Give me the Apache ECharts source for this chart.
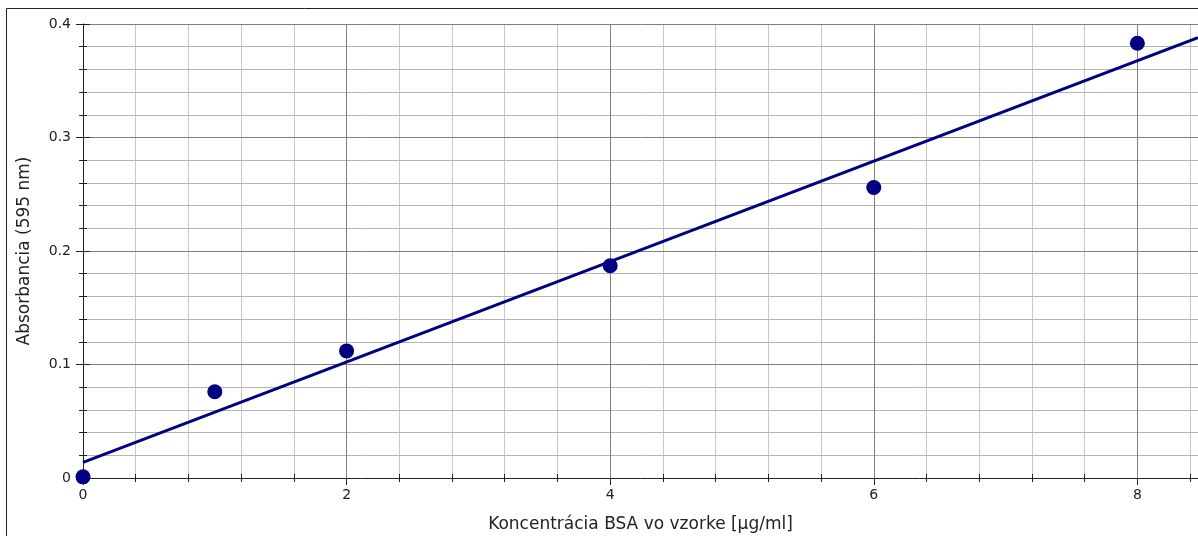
<!DOCTYPE html>
<html>
<head>
<meta charset="utf-8">
<script src="https://cdn.jsdelivr.net/npm/echarts@6/dist/echarts.min.js"></script>
<style>
html,body{margin:0;padding:0;background:#fff;}
#c{width:1198px;height:536px;}
</style>
</head>
<body>
<div id="c"></div>
<script>
const concentrations = [0, 1, 2, 4, 6, 8];
const absorbance = [0.001, 0.076, 0.112, 0.187, 0.256, 0.383];
const trendX = [0, 8.46];
const trendY = [0.0137, 0.388];
const xTicks = [0, 2, 4, 6, 8];
const yTicks = [0, 0.1, 0.2, 0.3, 0.4];
const xTitle = 'Koncentrácia BSA vo vzorke [µg/ml]';
const yTitle = 'Absorbancia (595 nm)';

const FONT = 'DejaVu Sans';
const NAVY = '#000080';
const XMIN = 0, XMAX = 8.46, YMIN = 0, YMAX = 0.4;

const chart = echarts.init(document.getElementById('c'), null, {renderer: 'canvas'});

const hiddenX = (extra) => Object.assign({
  type: 'value', min: XMIN, max: XMAX, position: 'bottom',
  axisLine: {show: false}, axisLabel: {show: false}, splitLine: {show: false},
  axisTick: {show: false}
}, extra);

const option = {
  animation: false,
  backgroundColor: '#fff',
  grid: {left: 83, right: 0, top: 24, bottom: 58, containLabel: false, outerBoundsMode: 'none'},
  graphic: [{
    type: 'rect', silent: true, z: -1,
    shape: {x: 6.5, y: 8.5, width: 1300, height: 700},
    style: {fill: 'none', stroke: '#222', lineWidth: 1}
  }],
  xAxis: [
    hiddenX({
      z: 0, interval: 0.4,
      axisTick: {show: true, inside: false, length: 4, lineStyle: {color: '#222', width: 1}},
      splitLine: {show: true, showMinLine: false, showMaxLine: false, lineStyle: {color: '#c8c8c8', width: 1}}
    }),
    hiddenX({
      z: 0, interval: 0.4,
      axisTick: {show: true, inside: true, length: 4, lineStyle: {color: '#222', width: 1}}
    }),
    hiddenX({
      z: 1, interval: 2,
      axisTick: {show: true, inside: true, length: 7, lineStyle: {color: '#222', width: 1}}
    }),
    {
      type: 'value', min: XMIN, max: XMAX, interval: 2, position: 'bottom', z: 2,
      name: xTitle, nameLocation: 'middle', nameGap: 38,
      nameTextStyle: {fontFamily: FONT, fontSize: 17, color: '#222'},
      axisLine: {show: true, onZero: false, lineStyle: {color: '#222', width: 1}},
      axisTick: {show: true, inside: false, length: 7, lineStyle: {color: '#222', width: 1}},
      axisLabel: {
        show: true, margin: 10, fontFamily: FONT, fontSize: 14, color: '#222',
        showMaxLabel: false,
        formatter: v => (xTicks.indexOf(v) >= 0 ? String(v) : '')
      },
      splitLine: {show: true, showMinLine: false, showMaxLine: false, lineStyle: {color: '#808080', width: 1}}
    }
  ],
  yAxis: [
    {
      type: 'value', min: YMIN, max: YMAX, interval: 0.1, position: 'left', z: 2,
      name: yTitle, nameLocation: 'middle', nameGap: 50,
      nameTextStyle: {fontFamily: FONT, fontSize: 17, color: '#222'},
      axisLine: {show: true, onZero: false, lineStyle: {color: '#222', width: 1}},
      axisTick: {show: true, inside: false, length: 7, lineStyle: {color: '#222', width: 1}},
      minorTick: {show: true, splitNumber: 5, length: 4, lineStyle: {color: '#222', width: 1}},
      minorSplitLine: {show: true, lineStyle: {color: '#b4b4b4', width: 1}},
      axisLabel: {
        show: true, margin: 12, fontFamily: FONT, fontSize: 14, color: '#222',
        formatter: v => {
          const t = yTicks.find(y => Math.abs(y - v) < 1e-9);
          return t === undefined ? '' : String(t);
        }
      },
      splitLine: {show: true, showMinLine: false, lineStyle: {color: '#808080', width: 1}}
    },
    {
      type: 'value', min: YMIN, max: YMAX, interval: 0.1, position: 'left', z: 2,
      axisLine: {show: false},
      axisTick: {show: true, inside: true, length: 7, lineStyle: {color: '#222', width: 1}},
      minorTick: {show: true, splitNumber: 5, length: 4, lineStyle: {color: '#222', width: 1}},
      axisLabel: {show: false, inside: true},
      splitLine: {show: false}
    }
  ],
  series: [
    {
      type: 'line', xAxisIndex: 3, yAxisIndex: 0, z: 3,
      data: trendX.map((x, i) => [x, trendY[i]]),
      showSymbol: false, symbol: 'none',
      lineStyle: {color: NAVY, width: 3},
      clip: true
    },
    {
      type: 'scatter', xAxisIndex: 3, yAxisIndex: 0, z: 4,
      data: concentrations.map((x, i) => [x, absorbance[i]]),
      symbol: 'circle', symbolSize: 15,
      itemStyle: {color: NAVY, opacity: 1},
      clip: false
    }
  ]
};
chart.setOption(option);
</script>
</body>
</html>
